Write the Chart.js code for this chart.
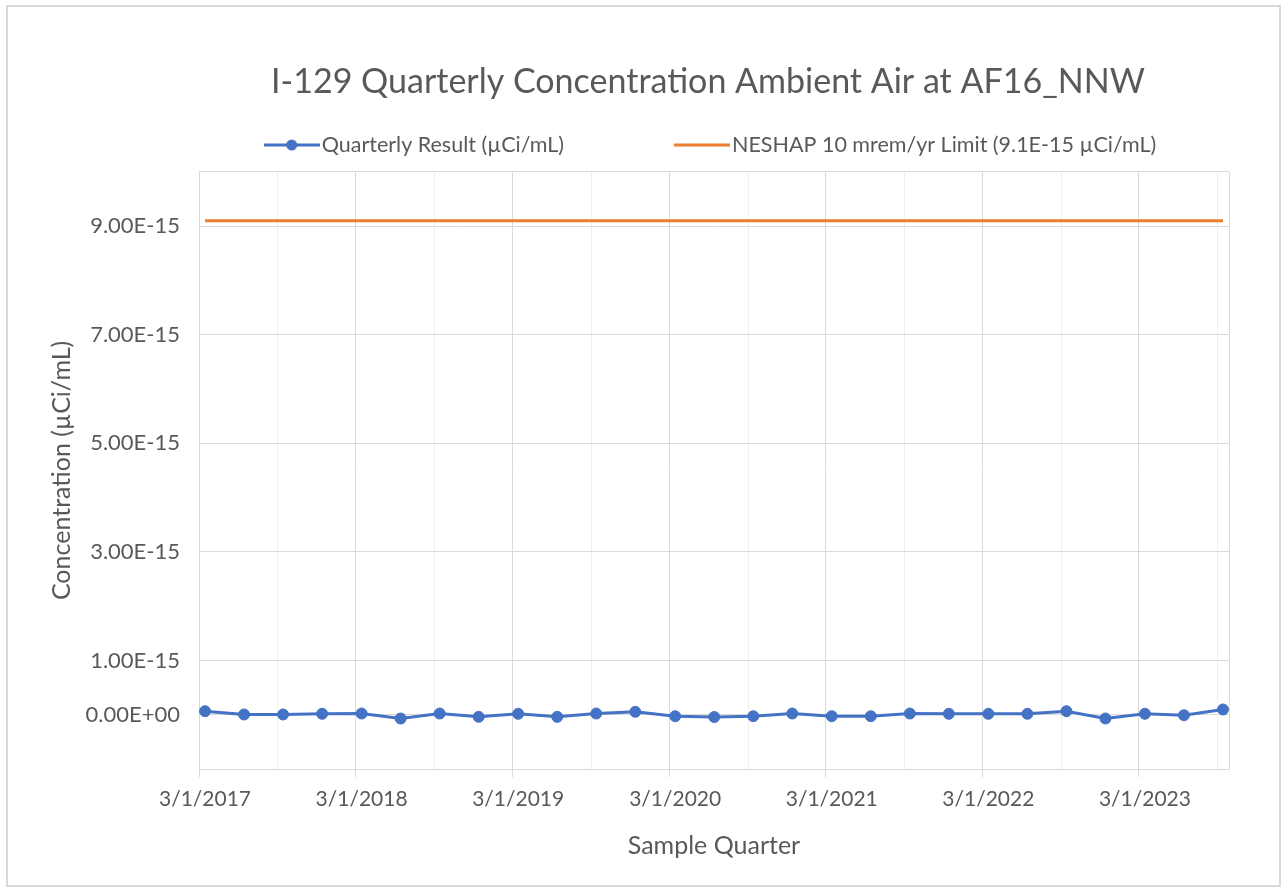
<!DOCTYPE html>
<html>
<head>
<meta charset="utf-8">
<script src="https://cdn.jsdelivr.net/npm/chart.js@4.4.1/dist/chart.umd.min.js"></script>
<style>
    body { margin: 0; background: #fff; }
    #frame {
        position: absolute; left: 6px; top: 5px;
        width: 1271px; height: 878px;
        border: 2px solid #d9d9d9;
    }
</style>
</head>
<body>
<div id="frame"><canvas id="chart1"></canvas></div>
<script>
// DATA
const sampleDates = [
    '3/15/2017', '6/14/2017', '9/13/2017', '12/13/2017',
    '3/15/2018', '6/14/2018', '9/13/2018', '12/13/2018',
    '3/15/2019', '6/14/2019', '9/13/2019', '12/13/2019',
    '3/15/2020', '6/14/2020', '9/13/2020', '12/13/2020',
    '3/15/2021', '6/14/2021', '9/13/2021', '12/13/2021',
    '3/15/2022', '6/14/2022', '9/13/2022', '12/13/2022',
    '3/15/2023', '6/14/2023', '9/13/2023'
];
const quarterlyResult = [
    6.5e-17, 4e-18, 4e-18, 1.7e-17,
    2.2e-17, -7.0e-17, 2.2e-17, -3.9e-17,
    1.7e-17, -3.9e-17, 2.2e-17, 5.4e-17,
    -2.8e-17, -4.2e-17, -2.8e-17, 2.2e-17,
    -2.8e-17, -2.8e-17, 2.2e-17, 1.7e-17,
    1.7e-17, 1.7e-17, 6.5e-17, -7.0e-17,
    1.7e-17, -9e-18, 9.6e-17
];
const neshapLimit = 9.1e-15;
const yTickValues = [-1e-15, 0, 1e-15, 3e-15, 5e-15, 7e-15, 9e-15, 1e-14];
const xYearTicks = ['3/1/2017', '3/1/2018', '3/1/2019', '3/1/2020', '3/1/2021', '3/1/2022', '3/1/2023'];
const xHalfTicks = ['9/1/2017', '9/1/2018', '9/1/2019', '9/1/2020', '9/1/2021', '9/1/2022', '9/1/2023'];
const xRange = ['3/1/2017', '9/27/2023'];

const TEXT = '#595959';
const FONT = 'Lato';

function toDay(s) {
    const [m, d, y] = s.split('/').map(Number);
    return Date.UTC(y, m - 1, d) / 864e5;
}
function fromDay(n) {
    const d = new Date(n * 864e5);
    return (d.getUTCMonth() + 1) + '/' + d.getUTCDate() + '/' + d.getUTCFullYear();
}
function sci(v) {
    if (v === 0) return '0.00E+00';
    const [m, e] = v.toExponential(2).split('e');
    const n = parseInt(e, 10);
    return m + 'E' + (n < 0 ? '-' : '+') + String(Math.abs(n)).padStart(2, '0');
}

const yearDays = xYearTicks.map(toDay);
const halfDays = xHalfTicks.map(toDay);
const xMin = toDay(xRange[0]);
const xMax = toDay(xRange[1]);

// legend symbols
function legendLine(color, withDot) {
    const c = document.createElement('canvas');
    c.width = 56; c.height = 14;
    const g = c.getContext('2d');
    g.strokeStyle = color; g.lineWidth = 3;
    g.beginPath(); g.moveTo(0, 7); g.lineTo(56, 7); g.stroke();
    if (withDot) {
        g.fillStyle = color;
        g.beginPath(); g.arc(28, 7, 5.5, 0, Math.PI * 2); g.fill();
    }
    return c;
}

const customLegend = {
    id: 'customLegend',
    afterLayout(chart) {
        // title centred over the plot like the original
        const t = chart.titleBlock;
        const cx = (chart.chartArea.left + chart.chartArea.right) / 2 - 6;
        const half = (t.right - t.left) / 2;
        t.left = cx - half; t.right = cx + half;
    },
    afterDraw(chart) {
        const ctx = chart.ctx;
        const opts = chart.options.plugins.customLegend;
        ctx.save();
        ctx.font = opts.size + 'px ' + FONT;
        ctx.fillStyle = TEXT;
        ctx.textBaseline = 'middle';
        const items = chart.data.datasets.map((ds, i) => ({
            text: ds.label,
            img: legendLine(ds.borderColor, i === 0),
            w: 56 + 2 + ctx.measureText(ds.label).width
        }));
        const total = items.reduce((a, it) => a + it.w, 0) + opts.gap;
        let x = (chart.chartArea.left + chart.chartArea.right) / 2 - 4 - total / 2;
        items.forEach(it => {
            ctx.drawImage(it.img, x, opts.y - 7);
            ctx.fillText(it.text, x + 58, opts.y);
            x += it.w + opts.gap;
        });
        ctx.restore();
    }
};

const chart1 = new Chart(document.querySelector('#chart1'), {
    type: 'line',
    data: {
        datasets: [
            {
                label: 'Quarterly Result (µCi/mL)',
                data: sampleDates.map((d, i) => ({ x: toDay(d), y: quarterlyResult[i] })),
                borderColor: '#4472C4',
                backgroundColor: '#4472C4',
                borderWidth: 3,
                pointRadius: 5.5,
                pointBackgroundColor: '#4472C4',
                pointBorderColor: '#4472C4',
                pointBorderWidth: 1,
            },
            {
                label: 'NESHAP 10 mrem/yr Limit (9.1E-15 µCi/mL)',
                data: sampleDates.map(d => ({ x: toDay(d), y: neshapLimit })),
                borderColor: '#ED7D31',
                backgroundColor: '#ED7D31',
                borderWidth: 3,
                pointRadius: 0,
            }
        ]
    },
    options: {
        animation: false,
        responsive: true,
        maintainAspectRatio: false,
        devicePixelRatio: 1,
        layout: { padding: { left: 0, right: 50, top: 0, bottom: 0 } },
        scales: {
            x: {
                type: 'linear',
                min: xMin,
                max: xMax,
                afterBuildTicks: (scale) => {
                    const all = yearDays.concat(halfDays, [xMax]).sort((a, b) => a - b);
                    scale.ticks = all.map(v => ({ value: v }));
                },
                afterFit: (scale) => { scale.height = 116; },
                border: { color: '#d9d9d9', width: 1 },
                grid: {
                    color: (c) => (c.tick && halfDays.includes(c.tick.value)) ? '#efefef' : '#d9d9d9',
                    tickColor: (c) => (c.tick && yearDays.includes(c.tick.value)) ? '#d9d9d9' : 'rgba(0,0,0,0)',
                    tickLength: 8,
                },
                ticks: {
                    autoSkip: false,
                    maxRotation: 0,
                    color: TEXT,
                    padding: 10,
                    labelOffset: 6,
                    font: { family: FONT, size: 21 },
                    callback: (value) => yearDays.includes(value) ? fromDay(value) : '',
                },
                title: {
                    display: true,
                    text: 'Sample Quarter',
                    color: TEXT,
                    font: { family: FONT, size: 25 },
                    padding: { top: 0, bottom: 24 },
                }
            },
            y: {
                min: yTickValues[0],
                max: yTickValues[yTickValues.length - 1],
                afterBuildTicks: (scale) => {
                    scale.ticks = yTickValues.map(v => ({ value: v }));
                },
                afterFit: (scale) => { scale.width = 191; },
                border: { color: '#d9d9d9', width: 1 },
                grid: {
                    color: '#d9d9d9',
                    drawTicks: false,
                },
                ticks: {
                    autoSkip: false,
                    color: TEXT,
                    padding: 19,
                    font: { family: FONT, size: 22 },
                    callback: (value) => (value === yTickValues[0] || value === yTickValues[yTickValues.length - 1]) ? '' : sci(value),
                },
                title: {
                    display: true,
                    text: 'Concentration (µCi/mL)',
                    color: TEXT,
                    font: { family: FONT, size: 25 },
                    padding: { top: 39, bottom: 0 },
                }
            }
        },
        plugins: {
            legend: { display: false },
            tooltip: { enabled: false },
            title: {
                display: true,
                text: 'I-129 Quarterly Concentration Ambient Air at AF16_NNW',
                color: TEXT,
                font: { family: FONT, size: 34, weight: 'normal' },
                padding: { top: 55, bottom: 69 },
            },
            customLegend: { y: 138, size: 21.5, gap: 110 }
        }
    },
    plugins: [customLegend],
});
</script>
</body>
</html>
